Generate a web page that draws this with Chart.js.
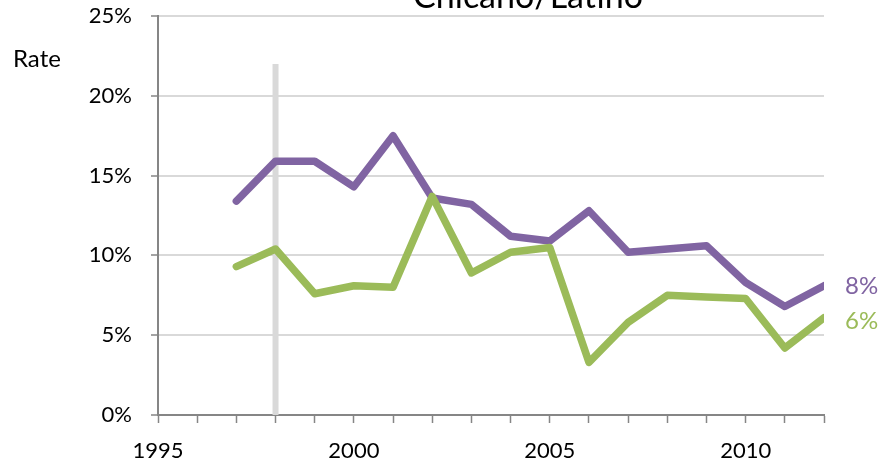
<!DOCTYPE html>
<html><head><meta charset="utf-8">
<script src="https://cdn.jsdelivr.net/npm/chart.js@4"></script>
<style>html,body{margin:0;padding:0;background:#fff}#c{display:block}</style>
</head><body>
<canvas id="c" width="883" height="462"></canvas>
<script>
const years = [1997,1998,1999,2000,2001,2002,2003,2004,2005,2006,2007,2008,2009,2010,2011,2012];
const purpleRates = [13.4,15.9,15.9,14.3,17.5,13.6,13.2,11.2,10.9,12.8,10.2,10.4,10.6,8.3,6.8,8.1];
const greenRates = [9.3,10.4,7.6,8.1,8.0,13.7,8.9,10.2,10.5,3.3,5.8,7.5,7.4,7.3,4.2,6.1];
const markerYear = 1998;
const markerRange = [0, 22];
const endLabels = ['8%', '6%'];
const xLabelYears = [1995, 2000, 2005, 2010];
const titleText = 'Chicano/Latino';
const yAxisTitle = 'Rate';

const FONT = 'Lato';
const PURPLE = '#8064A2', GREEN = '#9BBB59';

const toPts = (vals) => years.map((y, i) => ({x: y, y: vals[i]}));

const textPlugin = {
  id: 'texts',
  afterDraw(chart) {
    const ctx = chart.ctx;
    const xs = chart.scales.x, ys = chart.scales.y;
    ctx.save();
    ctx.fillStyle = '#000';
    ctx.font = '34px ' + FONT;
    ctx.textAlign = 'center';
    ctx.textBaseline = 'alphabetic';
    ctx.fillText(titleText, 528, 8);
    ctx.font = '24px ' + FONT;
    ctx.textAlign = 'left';
    ctx.textBaseline = 'middle';
    ctx.fillText(yAxisTitle, 13, 59);
    const last = years.length - 1;
    const lx = xs.getPixelForValue(years[last]) + 21;
    ctx.font = '24px ' + FONT;
    ctx.fillStyle = PURPLE;
    ctx.fillText(endLabels[0], lx, ys.getPixelForValue(purpleRates[last]) + 1);
    ctx.fillStyle = GREEN;
    ctx.fillText(endLabels[1], lx, ys.getPixelForValue(greenRates[last]) + 4);
    ctx.restore();
  }
};

new Chart(document.getElementById('c'), {
  type: 'line',
  data: {
    datasets: [
      {data: toPts(greenRates), borderColor: GREEN, borderWidth: 7.5, pointRadius: 0, borderCapStyle: 'round', borderJoinStyle: 'round', tension: 0},
      {data: toPts(purpleRates), borderColor: PURPLE, borderWidth: 7.5, pointRadius: 0, borderCapStyle: 'round', borderJoinStyle: 'round', tension: 0},
      {data: [{x: markerYear, y: markerRange[0]}, {x: markerYear, y: markerRange[1]}], borderColor: '#D9D9D9', borderWidth: 6, pointRadius: 0, borderCapStyle: 'butt'}
    ]
  },
  options: {
    responsive: false,
    animation: false,
    layout: {padding: {top: 16, right: 59, left: 0, bottom: 0}},
    plugins: {legend: {display: false}, tooltip: {enabled: false}},
    scales: {
      x: {
        type: 'linear', min: 1995, max: 2012,
        afterFit: (s) => { s.height = 47; s.paddingLeft = 0; s.paddingRight = 0; },
        border: {color: '#868686', width: 2},
        grid: {drawOnChartArea: false, drawTicks: true, tickLength: 8, tickColor: '#868686', tickWidth: 1.5},
        ticks: {
          stepSize: 1, autoSkip: false, maxRotation: 0, padding: 15,
          color: '#000', font: {family: FONT, size: 22},
          callback: (v) => xLabelYears.includes(v) ? String(v) : ''
        }
      },
      y: {
        min: 0, max: 25,
        afterFit: (s) => { s.width = 158; s.paddingTop = 0; s.paddingBottom = 0; },
        border: {color: '#868686', width: 2},
        grid: {color: '#D9D9D9', lineWidth: 2, drawTicks: true, tickLength: 7, tickColor: '#868686', tickWidth: 1.5},
        ticks: {
          stepSize: 5, padding: 19, color: '#000', font: {family: FONT, size: 22},
          callback: (v) => v + '%'
        }
      }
    }
  },
  plugins: [textPlugin]
});
</script>
</body></html>
